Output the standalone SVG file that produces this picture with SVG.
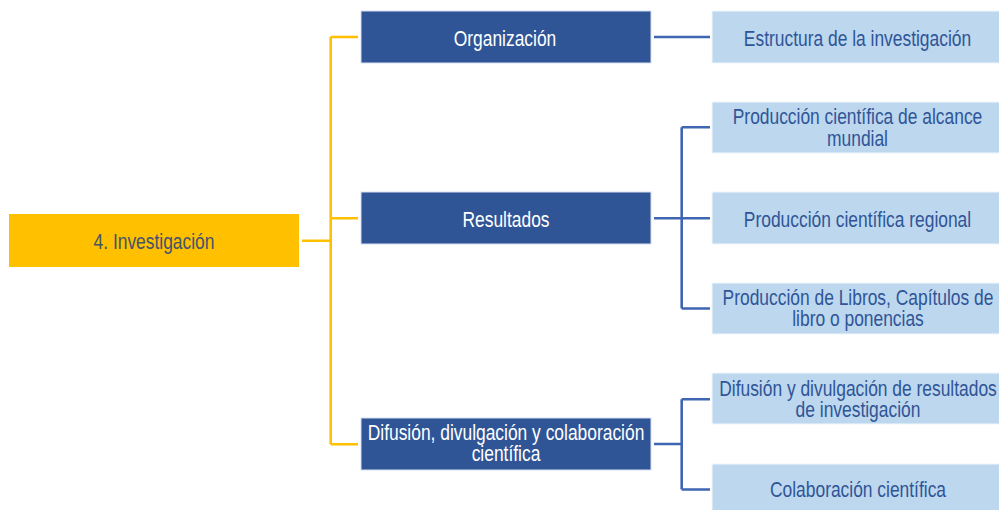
<svg xmlns="http://www.w3.org/2000/svg" width="999" height="510" viewBox="0 0 999 510">
<style>
.t{font-family:"Liberation Sans",Arial,sans-serif;font-size:21.5px;text-anchor:middle}
.root{fill:#FFC000}
.mid{fill:#2F5597;stroke:#D6E0F0;stroke-width:1}
.leaf{fill:#BDD7EE;stroke:#F2F7FC;stroke-width:1}
.tr{fill:#44546A}
.tm{fill:#FFFFFF}
.tl{fill:#2F5597}
.cy{fill:none;stroke:#FFC000;stroke-width:2.6}
.cb{fill:none;stroke:#3F66B3;stroke-width:2.6}
</style>
<rect width="999" height="510" fill="#FFFFFF"/>
<g id="connectors">
<path class="cy" d="M302 240.7H330.7M330.7 36.7V444.3M330.7 37H358M330.7 218.3H358M330.7 444.3H358"/>
<path class="cb" d="M654 37H710"/>
<path class="cb" d="M654 218.3H681.7M681.7 127.3V308.5M681.7 127.3H710M681.7 218.3H710M681.7 308.5H710"/>
<path class="cb" d="M654 444H681.7M681.7 399.3V489.5M681.7 399.3H710M681.7 489.5H710"/>
</g>
<g id="n-root">
<rect class="root" x="9" y="214" width="290" height="53"/>
<text class="t tr" transform="translate(154,248.5) scale(0.81,1)">4. Investigación</text>
</g>
<g id="n-organizacion">
<rect class="mid" x="361" y="11" width="290" height="52"/>
<text class="t tm" transform="translate(505,45.5) scale(0.81,1)">Organización</text>
</g>
<g id="n-resultados">
<rect class="mid" x="361" y="192" width="290" height="52"/>
<text class="t tm" transform="translate(506,226.5) scale(0.81,1)">Resultados</text>
</g>
<g id="n-difusion">
<rect class="mid" x="361" y="418" width="290" height="52"/>
<text class="t tm" transform="translate(506,440) scale(0.81,1)">Difusión, divulgación y colaboración</text>
<text class="t tm" transform="translate(506,461) scale(0.81,1)">científica</text>
</g>
<g id="n-estructura">
<rect class="leaf" x="712" y="11" width="292" height="52"/>
<text class="t tl" transform="translate(857.5,46) scale(0.81,1)">Estructura de la investigación</text>
</g>
<g id="n-mundial">
<rect class="leaf" x="712" y="102" width="292" height="51"/>
<text class="t tl" transform="translate(857.5,124) scale(0.81,1)">Producción científica de alcance</text>
<text class="t tl" transform="translate(857.5,145.5) scale(0.81,1)">mundial</text>
</g>
<g id="n-regional">
<rect class="leaf" x="712" y="192" width="292" height="52"/>
<text class="t tl" transform="translate(857.5,226.5) scale(0.81,1)">Producción científica regional</text>
</g>
<g id="n-libros">
<rect class="leaf" x="712" y="283" width="292" height="51"/>
<text class="t tl" transform="translate(858,304.5) scale(0.81,1)">Producción de Libros, Capítulos de</text>
<text class="t tl" transform="translate(858,326) scale(0.81,1)">libro o ponencias</text>
</g>
<g id="n-difusion-resultados">
<rect class="leaf" x="712" y="373" width="292" height="51"/>
<text class="t tl" transform="translate(858,395.5) scale(0.81,1)">Difusión y divulgación de resultados</text>
<text class="t tl" transform="translate(858,417) scale(0.81,1)">de investigación</text>
</g>
<g id="n-colaboracion">
<rect class="leaf" x="712" y="464" width="292" height="52"/>
<text class="t tl" transform="translate(858,497) scale(0.81,1)">Colaboración científica</text>
</g>
</svg>
